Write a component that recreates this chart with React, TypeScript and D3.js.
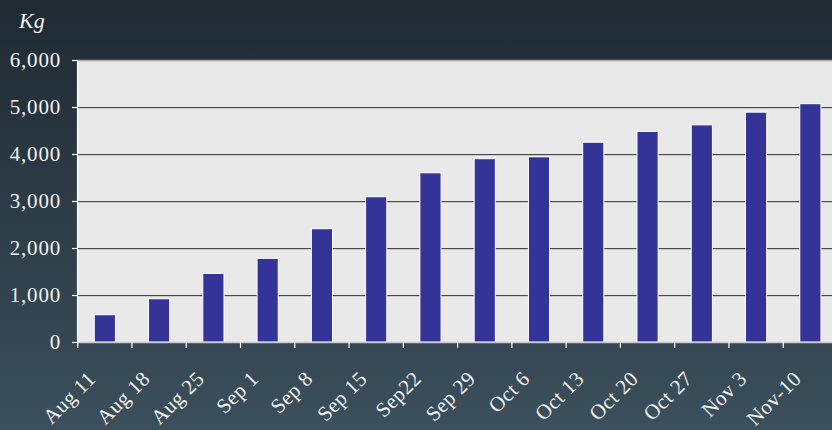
import React from "react";
import * as d3 from "d3";

const categories = ["Aug 11", "Aug 18", "Aug 25", "Sep 1", "Sep 8", "Sep 15", "Sep22", "Sep 29", "Oct 6", "Oct 13", "Oct 20", "Oct 27", "Nov 3", "Nov-10"];
const values = [580, 920, 1460, 1780, 2410, 3090, 3600, 3900, 3940, 4250, 4480, 4620, 4890, 5070];
const yTicks = [0, 1000, 2000, 3000, 4000, 5000, 6000];
const unitLabel = "Kg";

const W = 832;
const H = 430;
const FONT = "'Liberation Serif', 'DejaVu Serif', serif";

export default function App() {
  const x = d3.scaleBand<string>().domain(categories).range([77.7, 837.5]).paddingInner(0.61).paddingOuter(0.305);
  const y = d3.scaleLinear().domain([0, 6000]).range([342, 60]);
  const fmt = d3.format(",");
  const step = x.step();
  return (
    <svg width={W} height={H} style={{ position: "absolute", left: 0, top: 0, display: "block", overflow: "hidden" }}>
      <defs>
        <linearGradient id="bg" x1="0" y1="0" x2="0" y2="1">
          <stop offset="0" stopColor="#1f2a33" />
          <stop offset="1" stopColor="#3b4f5c" />
        </linearGradient>
      </defs>
      <rect x={0} y={0} width={W} height={H} fill="url(#bg)" />
      <rect x={77.5} y={60} width={W - 77.5} height={282} fill="#e9e9e9" />
      <line x1={77.5} x2={W} y1={60.5} y2={60.5} stroke="#a8a8a8" strokeWidth={1.5} />
      {yTicks.filter((t) => t > 0 && t < 6000).map((t) => (
        <g key={t}>
          <line x1={77.5} x2={W} y1={Math.round(y(t)) + 1.5} y2={Math.round(y(t)) + 1.5} stroke="#c9c9c9" strokeWidth={1} />
          <line x1={77.5} x2={W} y1={Math.round(y(t)) + 0.5} y2={Math.round(y(t)) + 0.5} stroke="#4a4a4a" strokeWidth={1} />
        </g>
      ))}
      {categories.map((c, i) => (
        <rect key={c} x={x(c)!} y={y(values[i])} width={x.bandwidth()} height={y(0) - y(values[i])} fill="#343397" stroke="#ffffff" strokeWidth={1} />
      ))}
      <line x1={77.5} x2={W} y1={342.5} y2={342.5} stroke="#c9c9c9" strokeWidth={1.5} />
      <line x1={77.5} x2={77.5} y1={60} y2={343} stroke="#ffffff" strokeWidth={1.2} />
      {yTicks.map((t) => (
        <g key={t}>
          <line x1={72} x2={77.5} y1={Math.round(y(t)) + 0.5} y2={Math.round(y(t)) + 0.5} stroke="#ffffff" strokeWidth={1.2} />
          <text x={61} y={y(t) + 7} textAnchor="end" fill="#f2f2f2" fontFamily={FONT} fontSize={21} letterSpacing={0.8}>{fmt(t)}</text>
        </g>
      ))}
      {categories.map((c, i) => {
        const tx = 77.7 + i * step;
        return <line key={c} x1={tx} x2={tx} y1={342} y2={348} stroke="#ffffff" strokeWidth={1.2} />;
      })}
      {categories.map((c) => {
        const cx = x(c)! + x.bandwidth() / 2 - 8;
        const cy = 380;
        return (
          <text key={c} x={cx} y={cy} textAnchor="end" fill="#f2f2f2" fontFamily={FONT} fontSize={21} letterSpacing={0.4} transform={`rotate(-45 ${cx} ${cy})`}>{c}</text>
        );
      })}
      <text x={19} y={28} fill="#f2f2f2" fontFamily={FONT} fontSize={22} fontStyle="italic">{unitLabel}</text>
    </svg>
  );
}
